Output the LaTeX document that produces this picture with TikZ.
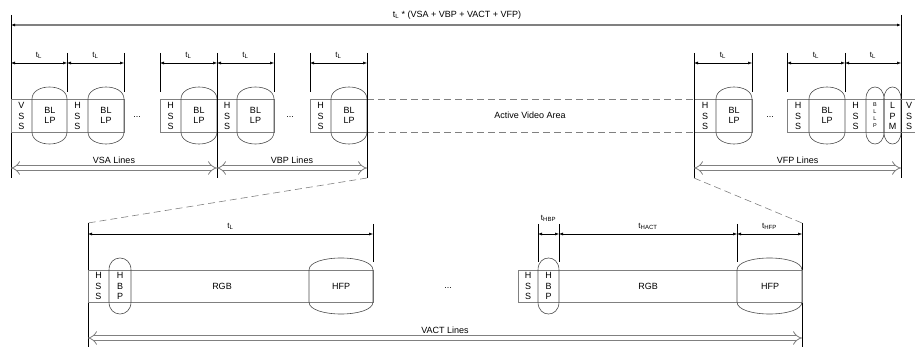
\documentclass[tikz,border=0pt]{standalone}
\usepackage{fontspec}
\setmainfont{Liberation Sans}
\usetikzlibrary{arrows.meta,positioning}

\definecolor{linegray}{gray}{0.5}
\definecolor{lensgray}{gray}{0.3}

% one rounded packet: x1, x2, strip top, strip bottom
\newcommand\vlens[4]{%
  \draw[lensline] (#1,#3) .. controls (#1,#3-16) and (#2,#3-16) .. (#2,#3)
    -- (#2,#4) .. controls (#2,#4+16) and (#1,#4+16) .. (#1,#4) -- cycle;}
\newcommand\tsub[1]{t\textsubscript{#1}}

\begin{document}
\begin{tikzpicture}[x=1pt, y=-1pt,
  every node/.style={inner sep=0pt},
  strip/.style={draw=linegray, line width=0.6pt},
  lensline/.style={draw=lensgray, line width=0.6pt},
  guide/.style={line width=0.5pt},
  dimarrow/.style={line width=0.5pt, {Latex[length=4pt,width=3pt]}-{Latex[length=4pt,width=3pt]}},
  spanarrow/.style={draw=linegray, line width=0.8pt, double=white, double distance=4pt, {Implies}-{Implies}},
  zoomline/.style={draw=linegray, line width=0.6pt, dash pattern=on 7pt off 4pt},
  letters/.style={align=center, font=\fontsize{9}{10.5}\selectfont},
  tiny letters/.style={align=center, font=\fontsize{5.5}{7}\selectfont},
  tlabel/.style={font=\fontsize{8}{9}\selectfont},
  caption/.style={font=\fontsize{9}{10}\selectfont}]
\useasboundingbox (0,0) rectangle (915,347);
\clip (0,0) rectangle (915,347);

% whole frame
\coordinate (frameL) at (11,15);
\coordinate (frameR) at (901,15);
\coordinate (totL) at (11,25);
\coordinate (totR) at (901,25);
\draw[guide] (frameL) -- (11,178);
\draw[guide] (frameR) -- (901,178);
\draw[draw=linegray, line width=1.3pt, {Latex[length=4pt,width=3pt,black]}-{Latex[length=4pt,width=3pt,black]}] (totL) -- (totR);
\node[caption] (total) at (457,15) {\tsub{L} * (VSA + VBP + VACT + VFP)};

% vertical blanking lines
\draw[strip] (11,99) rectangle (124,132);
\draw[strip] (160,99) rectangle (274,132);
\draw[strip] (310,99) rectangle (367,132);
\draw[strip] (694,99) rectangle (752,132);
\draw[strip] (787,99) rectangle (925,132);
\draw[zoomline] (367,99) -- (694,99) (367,132) -- (694,132);
\foreach \a/\b in {32/67, 88/124, 181/217, 237/274, 331/367, 716/752, 809/845, 866/884, 884/901}
  {\vlens{\a}{\b}{99}{132}}

\node[letters] (vss1) at (21.5,116) {V\\S\\S};
\node[letters] (vss2) at (909,116) {V\\S\\S};
\foreach \x [count=\i] in {77.5,170.5,227,320.5,705,798,855.5}
  \node[letters] (hss\i) at (\x,116) {H\\S\\S};
\foreach \x [count=\i] in {50,106,199,255.5,349,734,827}
  \node[letters] (bllp\i) at (\x,115.5) {BL\\LP};
\node[tiny letters] (bllp8) at (875,115.5) {B\\L\\L\\P};
\node[letters] (lpm) at (892.5,116) {L\\P\\M};
\foreach \x [count=\i] in {137,290,770}
  \node[letters] (dots\i) at (\x,117) {...};
\node[caption] (active) at (530,115) {Active Video Area};

% line times
\foreach \x in {67,124,160,274,310,752,787,845}
  \draw[guide] (\x,53) -- (\x,92);
\foreach \x/\n in {217/vbp, 367/act, 694/vfp} {
  \coordinate (\n-top) at (\x,53);
  \coordinate (\n-bot) at (\x,178);
  \draw[guide] (\n-top) -- (\n-bot);
}
\foreach \a/\b [count=\i] in {11/67, 67/124, 160/217, 217/274, 310/367, 694/752, 787/845, 845/901} {
  \coordinate (la\i) at (\a,63);
  \coordinate (lb\i) at (\b,63);
  \draw[dimarrow] (la\i) -- (lb\i) node[midway, above=4pt, tlabel] (tl\i) {\tsub{L}};
}
\foreach \a/\b/\t [count=\i] in {11/217/VSA, 217/367/VBP, 694/901/VFP} {
  \coordinate (sa\i) at (\a,168);
  \coordinate (sb\i) at (\b,168);
  \draw[spanarrow] (sa\i) -- (sb\i) node[midway, above=4pt, caption] (span\i) {\t{} Lines};
}

% one active line, zoomed
\coordinate (lineL) at (88,223);
\coordinate (lineR) at (802,223);
\draw[zoomline] (act-bot) -- (lineL);
\draw[zoomline] (vfp-bot) -- (lineR);
\draw[guide] (lineL) -- (88,347);
\draw[guide] (lineR) -- (802,347);
\foreach \x in {373,538,559,737}
  \draw[guide] (\x,224) -- (\x,262);

\draw[strip] (88,270) rectangle (373,302);
\draw[strip] (518,270) rectangle (802,302);
\foreach \a/\b in {109/131, 309/373, 538/559, 737/802}
  {\vlens{\a}{\b}{270}{302}}

\node[letters] (hss8) at (98.5,286) {H\\S\\S};
\node[letters] (hbp1) at (120,286) {H\\B\\P};
\node[letters] (rgb1) at (222,286) {RGB};
\node[letters] (hfp1) at (341,286) {HFP};
\node[letters] (dots4) at (448,288) {...};
\node[letters] (hss9) at (528,286) {H\\S\\S};
\node[letters] (hbp2) at (548.5,286) {H\\B\\P};
\node[letters] (rgb2) at (648,286) {RGB};
\node[letters] (hfp2) at (770,286) {HFP};

\foreach \a/\b/\t/\s [count=\i] in {88/373/L/4pt, 538/559/HBP/12pt, 559/737/HACT/4pt, 737/802/HFP/4pt} {
  \coordinate (ha\i) at (\a,234);
  \coordinate (hb\i) at (\b,234);
  \draw[dimarrow] (ha\i) -- (hb\i) node[midway, above=\s, tlabel] (th\i) {\tsub{\t}};
}
\coordinate (vactL) at (88,338);
\coordinate (vactR) at (802,338);
\draw[spanarrow] (vactL) -- (vactR) node[midway, above=4pt, caption] (vact) {VACT Lines};
\end{tikzpicture}
\end{document}
